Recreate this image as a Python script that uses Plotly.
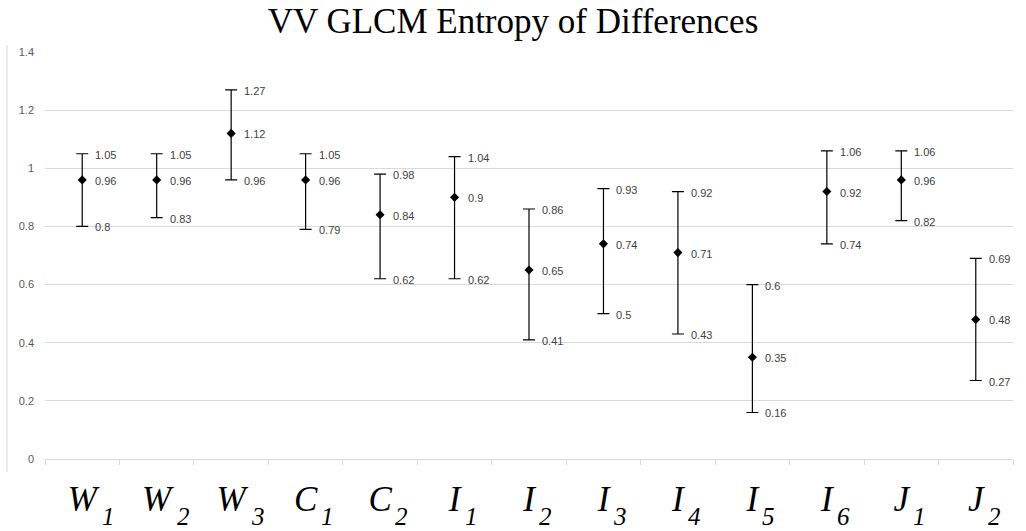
import plotly.graph_objects as go

categories = ["W1", "W2", "W3", "C1", "C2", "I1", "I2", "I3", "I4", "I5", "I6", "J1", "J2"]
letters = ["W", "W", "W", "C", "C", "I", "I", "I", "I", "I", "I", "J", "J"]
subs = ["1", "2", "3", "1", "2", "1", "2", "3", "4", "5", "6", "1", "2"]
means = [0.96, 0.96, 1.12, 0.96, 0.84, 0.9, 0.65, 0.74, 0.71, 0.35, 0.92, 0.96, 0.48]
upper = [1.05, 1.05, 1.27, 1.05, 0.98, 1.04, 0.86, 0.93, 0.92, 0.6, 1.06, 1.06, 0.69]
lower = [0.8, 0.83, 0.96, 0.79, 0.62, 0.62, 0.41, 0.5, 0.43, 0.16, 0.74, 0.82, 0.27]

err_plus = [u - m for u, m in zip(upper, means)]
err_minus = [m - l for m, l in zip(means, lower)]
ticktext = [f"<i>{l}</i>" for l in letters]

# approximate half-widths (px) of the italic capital letters, to place subscripts
half_w = {"W": 17, "C": 12, "I": 7, "J": 9}

fig = go.Figure()
fig.add_trace(go.Scatter(
    x=categories, y=means, mode="markers",
    marker=dict(symbol="diamond", size=7, color="black"),
    error_y=dict(type="data", symmetric=False, array=err_plus, arrayminus=err_minus,
                 color="black", thickness=1.2, width=6),
    showlegend=False, hoverinfo="skip",
))

annotations = []
lab_font = dict(family="Liberation Sans, Arial", size=11, color="#404040")
for c, m, u, l in zip(categories, means, upper, lower):
    for v in (u, m, l):
        annotations.append(dict(x=c, y=v, xref="x", yref="y", text=f"{v:g}",
                                showarrow=False, xanchor="left", yanchor="middle",
                                xshift=11, yshift=-1, font=lab_font))

sub_font = dict(family="Liberation Serif, Times New Roman", size=25, color="black")
for c, l, s in zip(categories, letters, subs):
    annotations.append(dict(x=c, y=0, xref="x", yref="y", text=f"<i>{s}</i>",
                            showarrow=False, xanchor="left", yanchor="middle",
                            xshift=half_w[l] + 1, yshift=-57, font=sub_font))

fig.update_layout(
    width=1026, height=531,
    margin=dict(l=45, r=13, t=52, b=72, autoexpand=False),
    paper_bgcolor="white", plot_bgcolor="white",
    title=dict(text="VV GLCM Entropy of Differences", x=0.5, xanchor="center",
               y=1 - 21 / 531, yanchor="middle", yref="container",
               font=dict(family="Liberation Serif, Times New Roman", size=35, color="black")),
    xaxis=dict(
        type="category", categoryorder="array", categoryarray=categories,
        tickmode="array", tickvals=categories, ticktext=ticktext,
        tickson="boundaries", ticks="outside", ticklen=5, tickcolor="#d9d9d9",
        showgrid=False, showline=True, linecolor="#d9d9d9", linewidth=1,
        tickfont=dict(family="Liberation Serif, Times New Roman", size=35, color="black"),
        ticklabelstandoff=9, zeroline=False, range=[-0.5, 12.5], automargin=False,
    ),
    yaxis=dict(
        range=[0, 1.4], dtick=0.2, tick0=0, showgrid=True, gridcolor="#d9d9d9",
        gridwidth=1, zeroline=False, showline=False, ticks="",
        tickfont=dict(family="Liberation Sans, Arial", size=11, color="#595959"),
        ticklabelstandoff=10, automargin=False,
    ),
    annotations=annotations,
    shapes=[dict(type="line", xref="paper", yref="paper",
                 x0=(7 - 45) / 968, x1=(7 - 45) / 968,
                 y0=(459 - 472) / 407, y1=(459 - 45) / 407,
                 line=dict(color="#d9d9d9", width=1))],
)

fig.write_html("out.html", config={"displayModeBar": False},
               post_script="document.body.style.margin='0';document.body.style.overflow='hidden';")
